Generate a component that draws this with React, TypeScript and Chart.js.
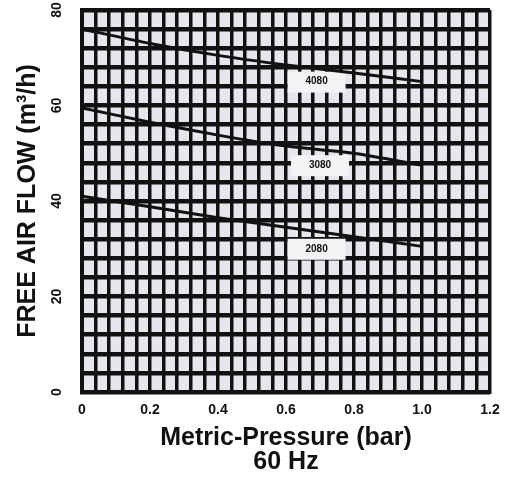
import React, { useEffect, useRef } from 'react';
import { Chart, registerables } from 'chart.js';

Chart.register(...registerables);

// ---- data ----
const pressure = [0, 0.2, 0.4, 0.6, 0.8, 1.0];
const flow4080 = [76, 73, 70.5, 68.5, 66.8, 65];
const flow3080 = [59.5, 56.5, 53.8, 51.5, 50, 47.5];
const flow2080 = [41, 38.8, 36.5, 34.5, 32.5, 30.5];
const seriesNames = ['4080', '3080', '2080'];
const labelAnchorX = [0.69, 0.7, 0.69];
const labelAnchorY = [65, 47.5, 30];
const xTickLabels = ['0', '0.2', '0.4', '0.6', '0.8', '1.0', '1.2'];
const yTickLabels = ['0', '20', '40', '60', '80'];

const FONT = '"Liberation Sans", Arial, sans-serif';
const INK = '#111';

const toPts = (ys: number[]) => pressure.map((x, i) => ({ x, y: ys[i] }));

const decorPlugin = {
  id: 'decor',
  beforeDraw(chart: any) {
    const { ctx, chartArea: a } = chart;
    ctx.save();
    ctx.fillStyle = '#ffffff';
    ctx.fillRect(0, 0, chart.width, chart.height);
    ctx.fillStyle = '#e6e6ec';
    ctx.fillRect(a.left, a.top, a.right - a.left, a.bottom - a.top);
    ctx.restore();
  },
  beforeDatasetsDraw(chart: any) {
    const { ctx } = chart;
    const xs = chart.scales.x;
    const ys = chart.scales.y;
    ctx.save();
    seriesNames.forEach((name, i) => {
      const px = xs.getPixelForValue(labelAnchorX[i]);
      const py = ys.getPixelForValue(labelAnchorY[i]);
      ctx.fillStyle = '#f3f3f6';
      ctx.fillRect(px - 29, py - 10, 58, 21);
      ctx.fillStyle = INK;
      ctx.font = `bold 10px ${FONT}`;
      ctx.textAlign = 'center';
      ctx.textBaseline = 'middle';
      ctx.fillText(name, px, py);
    });
    ctx.restore();
  },
};

export default function App() {
  const ref = useRef<HTMLCanvasElement | null>(null);

  useEffect(() => {
    if (!ref.current) return;
    const lineDs = (label: string, ys: number[]) => ({
      label,
      data: toPts(ys),
      borderColor: INK,
      borderWidth: 3,
      pointRadius: 0,
      tension: 0.2,
      fill: false,
    });
    const chart = new Chart(ref.current, {
      type: 'line',
      data: {
        datasets: [
          lineDs(seriesNames[0], flow4080),
          lineDs(seriesNames[1], flow3080),
          lineDs(seriesNames[2], flow2080),
        ],
      },
      options: {
        responsive: false,
        animation: false,
        layout: { padding: { top: 10, right: 17, left: 0, bottom: 0 } },
        plugins: { legend: { display: false }, tooltip: { enabled: false } },
        scales: {
          x: {
            type: 'linear',
            min: 0,
            max: 1.2,
            afterFit: (s: any) => {
              s.height = 95;
              s.paddingLeft = 0;
              s.paddingRight = 0;
            },
            ticks: {
              stepSize: 0.04,
              autoSkip: false,
              minRotation: 0,
              maxRotation: 0,
              padding: 10,
              color: INK,
              font: { family: FONT, size: 14, weight: 'bold' },
              callback: (v: any) => {
                const k = Math.round(Number(v) / 0.04);
                return k % 5 === 0 ? xTickLabels[k / 5] : '';
              },
            },
            grid: { color: INK, lineWidth: 3.5, drawTicks: false },
            border: { display: true, color: INK, width: 4 },
            title: {
              display: true,
              text: ['Metric-Pressure (bar)', '60 Hz'],
              color: INK,
              font: { family: FONT, size: 25, weight: 'bold', lineHeight: 0.96 },
              padding: { top: 0, bottom: 13 },
            },
          },
          y: {
            type: 'linear',
            min: 0,
            max: 80,
            afterFit: (s: any) => {
              s.width = 82;
              s.paddingTop = 0;
              s.paddingBottom = 0;
            },
            ticks: {
              stepSize: 4,
              autoSkip: false,
              minRotation: 90,
              maxRotation: 90,
              crossAlign: 'center',
              padding: 17,
              color: INK,
              font: { family: FONT, size: 14, weight: 'bold' },
              callback: (v: any) => {
                const k = Math.round(Number(v) / 4);
                return k % 5 === 0 ? yTickLabels[k / 5] : '';
              },
            },
            grid: { color: INK, lineWidth: 4.5, drawTicks: false },
            border: { display: true, color: INK, width: 4 },
            title: {
              display: true,
              text: 'FREE AIR FLOW (m³/h)',
              color: INK,
              font: { family: FONT, size: 25, weight: 'bold' },
              padding: { top: 13, bottom: 0 },
            },
          },
        },
      },
      plugins: [decorPlugin],
    } as any);
    return () => chart.destroy();
  }, []);

  return (
    <div style={{ position: 'absolute', left: 0, top: 0, width: 507, height: 487 }}>
      <canvas ref={ref} width={507} height={487} style={{ width: 507, height: 487 }} />
    </div>
  );
}
